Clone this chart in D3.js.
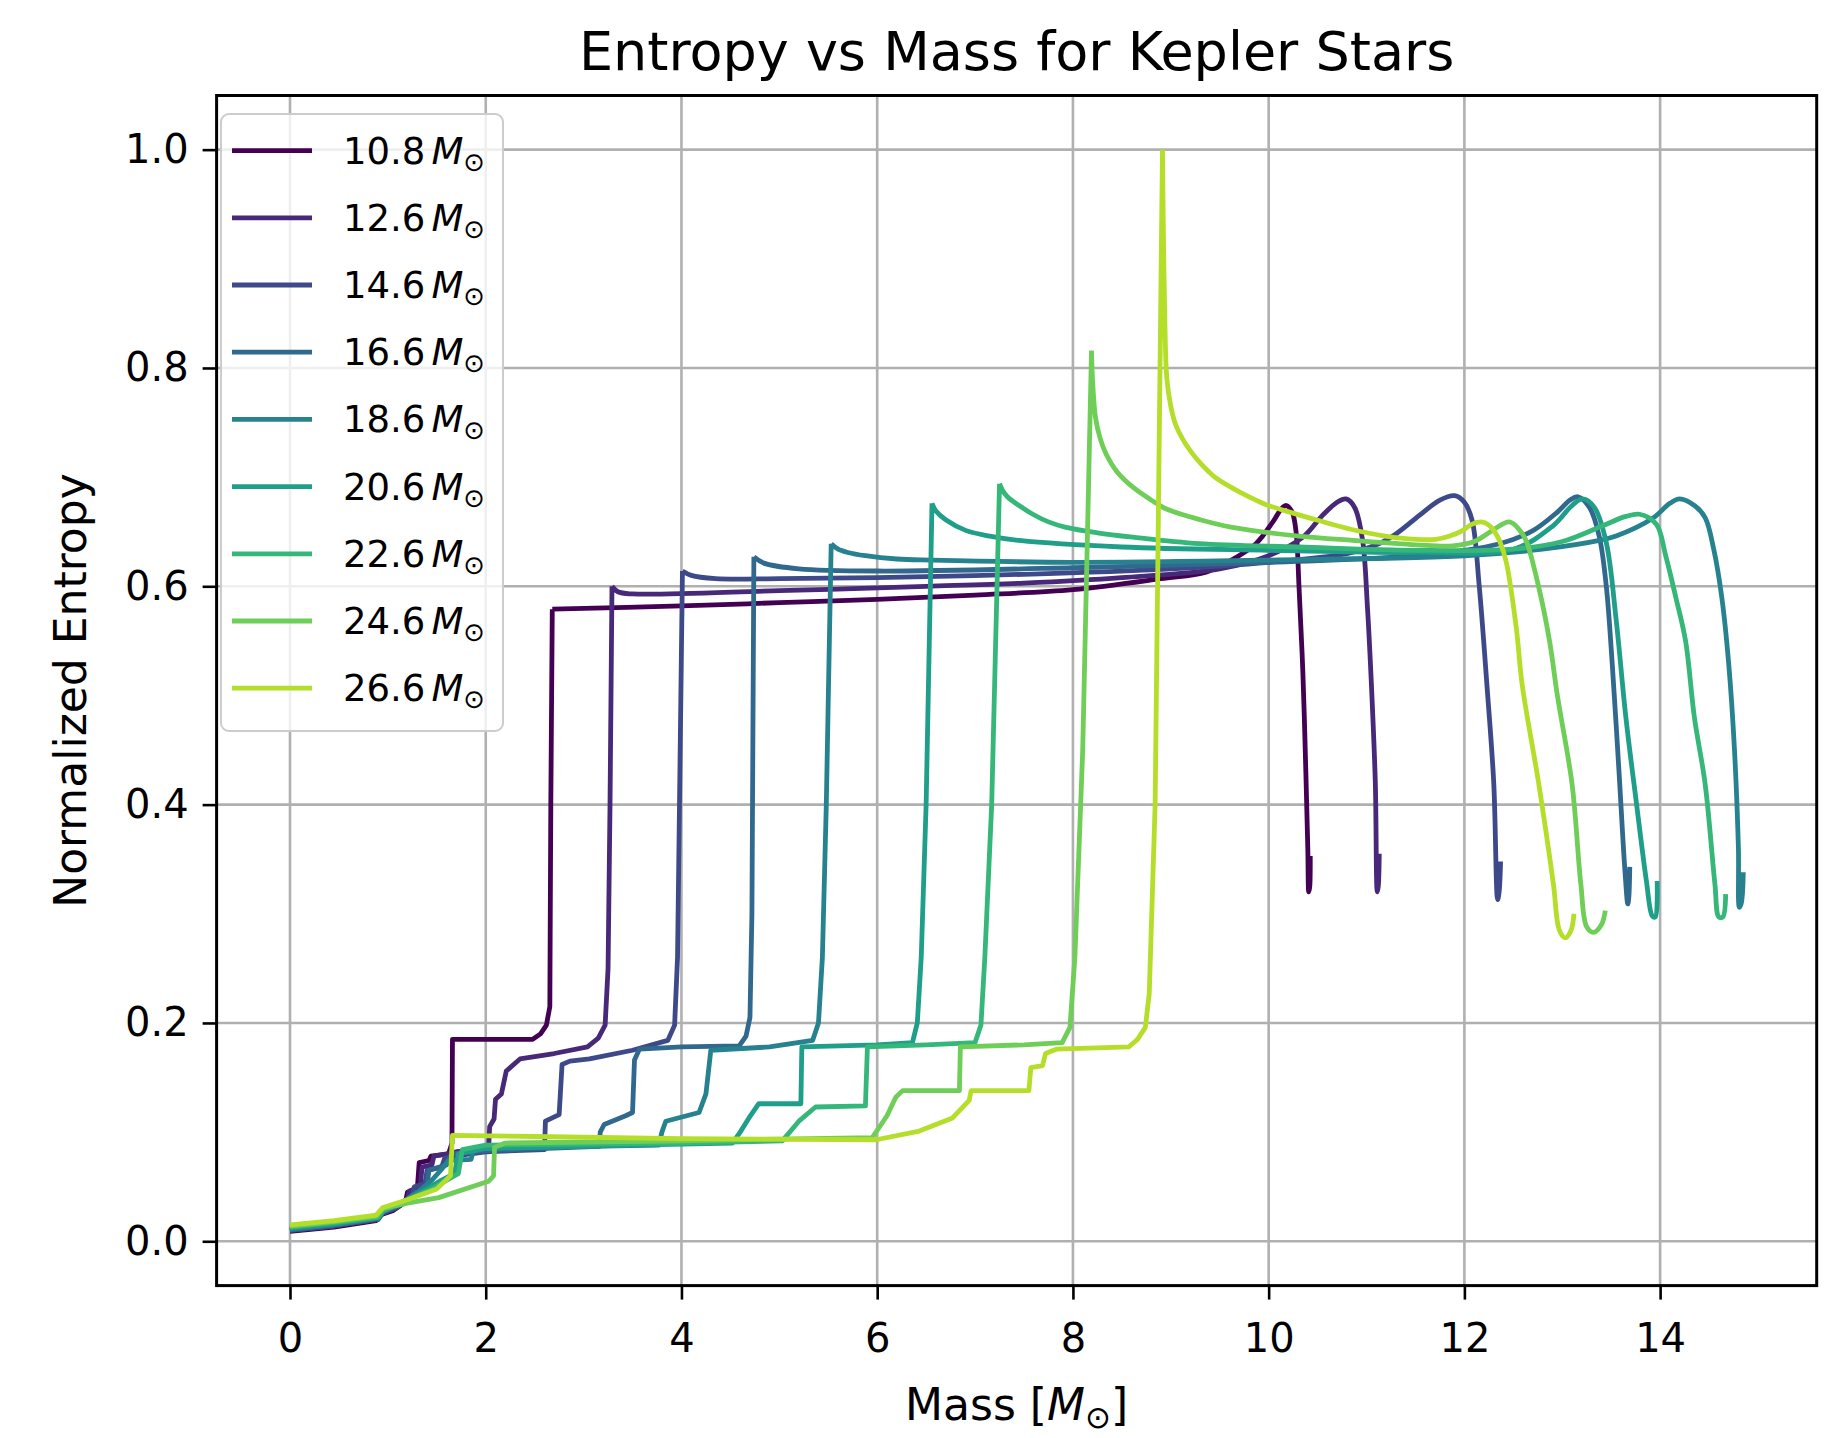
<!DOCTYPE html>
<html><head><meta charset="utf-8">
<script src="https://cdn.jsdelivr.net/npm/d3@7"></script>
<style>
body{margin:0;background:#fff}
svg{display:block}
text{font-family:"DejaVu Sans",sans-serif;fill:#000}
</style>
</head><body>
<svg id="chart" width="1826" height="1438"></svg>
<script>
// ---------------- data ----------------
const starMasses = [10.8, 12.6, 14.6, 16.6, 18.6, 20.6, 22.6, 24.6, 26.6];

// [mass coordinate, normalized entropy]
const s10_8 = [[0,0.009],[0.45,0.013],[0.88,0.019],[0.92,0.024],[1.05,0.028],[1.18,0.036],[1.20,0.045],[1.30,0.047],[1.32,0.072],[1.42,0.074],[1.44,0.078],[1.62,0.080],[1.655,0.09],[1.66,0.185],[2.48,0.185],[2.56,0.19],[2.62,0.198],[2.655,0.215],[2.665,0.40],[2.68,0.579],[4,0.582],[5,0.585],[6,0.588],[7,0.592],[8,0.597],[8.9,0.607],[9.36,0.613],[9.6,0.623],[9.87,0.639],[10.05,0.66],[10.13,0.671],[10.18,0.674],[10.24,0.668],[10.28,0.650],[10.31,0.60],[10.35,0.52],[10.38,0.43],[10.40,0.36],[10.41,0.32],[10.42,0.325],[10.425,0.353]];
const s12_6 = [[0,0.010],[0.45,0.014],[0.88,0.020],[0.93,0.025],[1.05,0.029],[1.2,0.038],[1.22,0.046],[1.33,0.05],[1.35,0.068],[1.45,0.07],[1.47,0.078],[1.6,0.08],[1.7,0.082],[2.0,0.084],[2.03,0.086],[2.04,0.105],[2.085,0.112],[2.10,0.13],[2.16,0.135],[2.21,0.156],[2.35,0.167],[2.7,0.172],[3.04,0.178],[3.15,0.186],[3.22,0.198],[3.25,0.25],[3.27,0.40],[3.29,0.600],[3.35,0.595],[3.5,0.593],[5,0.596],[6.5,0.600],[7.5,0.603],[8.5,0.608],[9.5,0.616],[10.0,0.628],[10.35,0.645],[10.55,0.665],[10.7,0.677],[10.79,0.680],[10.88,0.672],[10.96,0.642],[11.01,0.58],[11.05,0.51],[11.09,0.42],[11.11,0.32],[11.12,0.325],[11.13,0.355]];
const s14_6 = [[0,0.010],[0.45,0.014],[0.9,0.020],[0.95,0.026],[1.1,0.031],[1.25,0.042],[1.27,0.05],[1.38,0.053],[1.40,0.065],[1.55,0.068],[1.58,0.076],[1.75,0.079],[2.0,0.082],[2.6,0.084],[2.61,0.11],[2.75,0.116],[2.78,0.162],[2.86,0.165],[3.06,0.167],[3.5,0.175],[3.86,0.184],[3.93,0.198],[3.96,0.26],[3.98,0.40],[4.01,0.614],[4.1,0.610],[4.35,0.607],[5,0.607],[6,0.608],[7.5,0.611],[9,0.616],[10,0.622],[10.8,0.630],[11.1,0.638],[11.3,0.648],[11.54,0.665],[11.75,0.679],[11.9,0.683],[12.0,0.677],[12.08,0.660],[12.15,0.602],[12.23,0.51],[12.30,0.42],[12.34,0.313],[12.355,0.32],[12.37,0.348]];
const s16_6 = [[0,0.011],[0.45,0.015],[0.9,0.021],[0.95,0.027],[1.1,0.032],[1.3,0.045],[1.4,0.052],[1.42,0.065],[1.6,0.07],[1.65,0.08],[2.0,0.083],[3.16,0.087],[3.17,0.100],[3.21,0.107],[3.43,0.115],[3.50,0.118],[3.52,0.166],[3.57,0.176],[4.0,0.178],[4.59,0.179],[4.66,0.188],[4.70,0.205],[4.72,0.30],[4.74,0.627],[4.85,0.621],[5.2,0.616],[6,0.614],[8,0.617],[10,0.622],[11.5,0.628],[12.36,0.639],[12.7,0.651],[12.95,0.668],[13.08,0.679],[13.16,0.682],[13.28,0.672],[13.38,0.645],[13.45,0.60],[13.51,0.53],[13.58,0.43],[13.64,0.34],[13.67,0.309],[13.68,0.315],[13.69,0.343]];
const s18_6 = [[0,0.011],[0.45,0.015],[0.9,0.021],[0.95,0.027],[1.1,0.033],[1.35,0.048],[1.45,0.056],[1.55,0.066],[1.62,0.074],[1.85,0.075],[1.88,0.085],[2.5,0.086],[3.77,0.088],[3.80,0.100],[3.84,0.110],[4.18,0.118],[4.25,0.135],[4.30,0.175],[4.9,0.178],[5.34,0.184],[5.40,0.200],[5.44,0.26],[5.48,0.40],[5.53,0.639],[5.6,0.634],[5.7,0.631],[5.88,0.628],[6.2,0.625],[6.56,0.624],[8,0.622],[10,0.624],[12,0.628],[12.8,0.634],[13.38,0.642],[13.55,0.646],[13.92,0.662],[14.1,0.676],[14.2,0.680],[14.35,0.674],[14.46,0.663],[14.55,0.633],[14.63,0.590],[14.70,0.53],[14.76,0.45],[14.80,0.36],[14.81,0.306],[14.83,0.31],[14.85,0.338]];
const s20_6 = [[0,0.012],[0.45,0.016],[0.9,0.022],[0.95,0.028],[1.1,0.033],[1.4,0.048],[1.55,0.056],[1.68,0.062],[1.72,0.08],[2.0,0.085],[3.5,0.088],[4.52,0.090],[4.6,0.100],[4.69,0.113],[4.79,0.126],[5.22,0.126],[5.23,0.178],[6.0,0.180],[6.36,0.182],[6.41,0.200],[6.45,0.26],[6.50,0.40],[6.56,0.676],[6.6,0.669],[6.7,0.661],[6.91,0.651],[7.15,0.646],[7.45,0.642],[8.5,0.636],[10,0.633],[11.5,0.631],[12.5,0.634],[12.9,0.655],[13.1,0.674],[13.21,0.680],[13.33,0.672],[13.45,0.64],[13.55,0.57],[13.65,0.48],[13.76,0.40],[13.86,0.33],[13.92,0.298],[13.95,0.297],[13.97,0.33]];
const s22_6 = [[0,0.013],[0.45,0.017],[0.9,0.022],[0.95,0.028],[1.1,0.034],[1.45,0.048],[1.6,0.056],[1.72,0.062],[1.76,0.084],[2.0,0.088],[4,0.090],[5.03,0.092],[5.2,0.110],[5.37,0.123],[5.88,0.124],[5.90,0.178],[6.5,0.180],[7.0,0.182],[7.06,0.198],[7.10,0.26],[7.17,0.40],[7.25,0.694],[7.28,0.688],[7.33,0.682],[7.45,0.674],[7.59,0.666],[7.75,0.659],[7.93,0.654],[8.25,0.649],[8.61,0.645],[9.29,0.639],[10.31,0.636],[11.5,0.633],[12.5,0.634],[13.0,0.641],[13.4,0.655],[13.65,0.664],[13.79,0.666],[13.96,0.657],[14.06,0.627],[14.16,0.59],[14.26,0.55],[14.35,0.48],[14.46,0.419],[14.56,0.327],[14.60,0.297],[14.64,0.297],[14.67,0.318]];
const s24_6 = [[0,0.014],[0.45,0.018],[0.88,0.023],[0.95,0.030],[1.2,0.035],[1.52,0.040],[2.03,0.055],[2.08,0.060],[2.09,0.086],[2.2,0.090],[4,0.092],[5.95,0.095],[6.1,0.115],[6.19,0.132],[6.26,0.138],[6.84,0.138],[6.85,0.178],[7.5,0.180],[7.89,0.182],[7.97,0.196],[8.02,0.26],[8.10,0.45],[8.19,0.816],[8.20,0.79],[8.23,0.755],[8.28,0.735],[8.34,0.721],[8.45,0.705],[8.61,0.691],[8.8,0.679],[8.95,0.671],[9.3,0.661],[9.63,0.654],[10.31,0.646],[10.86,0.642],[11.5,0.638],[11.88,0.637],[12.1,0.641],[12.3,0.652],[12.46,0.659],[12.56,0.652],[12.63,0.642],[12.76,0.599],[12.87,0.55],[12.95,0.50],[13.1,0.419],[13.19,0.327],[13.25,0.288],[13.32,0.283],[13.40,0.290],[13.44,0.303]];
const s26_6 = [[0,0.015],[0.45,0.019],[0.88,0.024],[0.95,0.031],[1.2,0.038],[1.5,0.048],[1.64,0.06],[1.66,0.097],[2.5,0.096],[4,0.094],[5.99,0.093],[6.43,0.101],[6.77,0.113],[6.94,0.129],[6.96,0.138],[7.55,0.138],[7.57,0.159],[7.69,0.161],[7.72,0.172],[7.83,0.176],[8.57,0.178],[8.66,0.185],[8.74,0.196],[8.78,0.227],[8.84,0.40],[8.915,1.0],[8.925,0.92],[8.94,0.84],[8.96,0.79],[9.0,0.765],[9.05,0.748],[9.12,0.735],[9.2,0.724],[9.3,0.713],[9.45,0.70],[9.63,0.69],[9.8,0.682],[9.97,0.675],[10.25,0.667],[10.52,0.660],[10.85,0.652],[11.19,0.646],[11.5,0.643],[11.71,0.643],[11.85,0.646],[11.98,0.651],[12.08,0.657],[12.17,0.659],[12.25,0.656],[12.33,0.647],[12.42,0.625],[12.53,0.562],[12.59,0.51],[12.76,0.419],[12.91,0.327],[12.97,0.285],[13.03,0.278],[13.09,0.285],[13.12,0.30]];

const seriesProfiles = [s10_8, s12_6, s14_6, s16_6, s18_6, s20_6, s22_6, s24_6, s26_6];

const xTickValues = [0, 2, 4, 6, 8, 10, 12, 14];
const yTickValues = [0.0, 0.2, 0.4, 0.6, 0.8, 1.0];
const yTickLabels = ["0.0", "0.2", "0.4", "0.6", "0.8", "1.0"];
const chartTitle = "Entropy vs Mass for Kepler Stars";
const yAxisTitle = "Normalized Entropy";

// ---------------- layout ----------------
const plot = {left: 216.6, right: 1816.7, top: 95.5, bottom: 1285.6};
const svg = d3.select("#chart");

const x = d3.scaleLinear().domain([-0.75, 15.6]).range([plot.left, plot.right]);
const y = d3.scaleLinear().domain([-0.0406, 1.0496]).range([plot.bottom, plot.top]);

const gridColor = "#b0b0b0";

// grid
const grid = svg.append("g");
xTickValues.forEach(v => grid.append("line")
  .attr("x1", x(v)).attr("x2", x(v)).attr("y1", plot.top).attr("y2", plot.bottom)
  .attr("stroke", gridColor).attr("stroke-width", 2.6));
yTickValues.forEach(v => grid.append("line")
  .attr("x1", plot.left).attr("x2", plot.right).attr("y1", y(v)).attr("y2", y(v))
  .attr("stroke", gridColor).attr("stroke-width", 2.6));

// lines: stepwise core part drawn straight, smooth envelope part drawn with a centripetal spline
const colorOf = i => d3.interpolateViridis(i / 9);
const straight = d3.line().x(d => x(d[0])).y(d => y(d[1]));
const smooth = d3.line().x(d => x(d[0])).y(d => y(d[1])).curve(d3.curveCatmullRom.alpha(0.5));
const lines = svg.append("g");
seriesProfiles.forEach((p, i) => {
  const k = p.findIndex(d => d[1] > 0.5);
  const dPath = straight(p.slice(0, k + 1)) + smooth(p.slice(k));
  lines.append("path")
    .attr("d", dPath)
    .attr("fill", "none")
    .attr("stroke", colorOf(i))
    .attr("stroke-width", 4.8)
    .attr("stroke-linejoin", "round")
    .attr("stroke-linecap", "butt");
});

// axes
const xAxis = d3.axisBottom(x).tickValues(xTickValues).tickSize(14).tickPadding(24).tickFormat(d3.format("d"));
const yAxis = d3.axisLeft(y).tickValues(yTickValues).tickSize(14).tickPadding(14).tickFormat((d, i) => yTickLabels[i]);

const gx = svg.append("g").attr("transform", `translate(0,${plot.bottom})`).call(xAxis);
const gy = svg.append("g").attr("transform", `translate(${plot.left},0)`).call(yAxis);
[gx, gy].forEach(g => {
  g.select(".domain").remove();
  g.selectAll(".tick line").attr("stroke", "#000").attr("stroke-width", 2.6);
  g.selectAll(".tick text").attr("font-size", 40).attr("fill", "#000")
    .style("font-family", '"DejaVu Sans", sans-serif');
});

// spines
svg.append("rect")
  .attr("x", plot.left).attr("y", plot.top)
  .attr("width", plot.right - plot.left).attr("height", plot.bottom - plot.top)
  .attr("fill", "none").attr("stroke", "#000").attr("stroke-width", 3);

// title
svg.append("text")
  .attr("x", (plot.left + plot.right) / 2).attr("y", 70)
  .attr("text-anchor", "middle").attr("font-size", 54)
  .text(chartTitle);

// x label with math
const xl = svg.append("text")
  .attr("x", (plot.left + plot.right) / 2).attr("y", 1420)
  .attr("text-anchor", "middle").attr("font-size", 44);
xl.append("tspan").text("Mass [");
xl.append("tspan").attr("font-style", "italic").text("M");
xl.append("tspan").attr("font-size", 31).attr("dy", 8).text("\u2299");
xl.append("tspan").attr("dy", -8).text("]");

// y label
svg.append("text")
  .attr("transform", `translate(86,${(plot.top + plot.bottom) / 2}) rotate(-90)`)
  .attr("text-anchor", "middle").attr("font-size", 44)
  .text(yAxisTitle);

// legend
const legend = svg.append("g");
const lg = {x: 221, y: 114, w: 282, h: 617, row0: 150.6, pitch: 67.2};
legend.append("rect")
  .attr("x", lg.x).attr("y", lg.y).attr("width", lg.w).attr("height", lg.h)
  .attr("rx", 8).attr("fill", "#fff").attr("fill-opacity", 0.8)
  .attr("stroke", "#cccccc").attr("stroke-width", 2);
starMasses.forEach((m, i) => {
  const cy = lg.row0 + i * lg.pitch;
  legend.append("line")
    .attr("x1", 232).attr("x2", 312).attr("y1", cy).attr("y2", cy)
    .attr("stroke", colorOf(i)).attr("stroke-width", 4.8);
  const t = legend.append("text").attr("x", 343).attr("y", cy + 13).attr("font-size", 37);
  t.append("tspan").text(m.toFixed(1));
  t.append("tspan").attr("font-style", "italic").attr("dx", 6).text("M");
  t.append("tspan").attr("font-size", 26).attr("dy", 7).text("\u2299");
});
</script>
</body></html>
